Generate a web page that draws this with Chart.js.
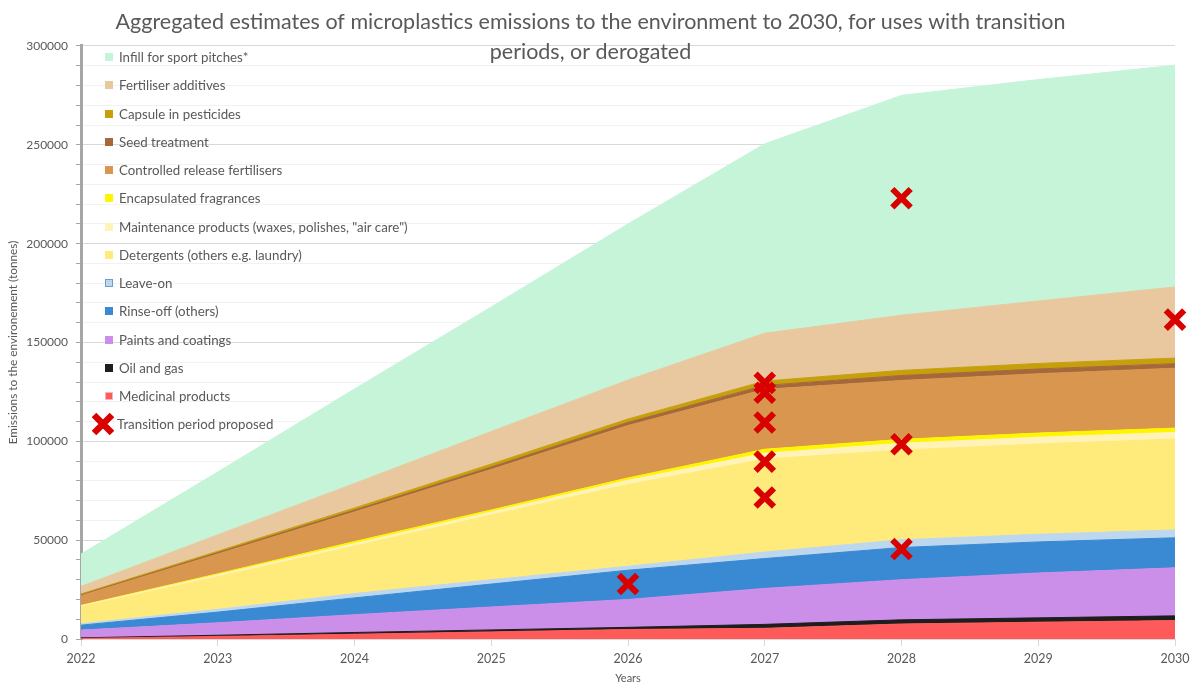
<!DOCTYPE html>
<html>
<head>
<meta charset="utf-8">
<script src="https://cdn.jsdelivr.net/npm/chart.js@4.4.1/dist/chart.umd.min.js"></script>
<style>
  body { margin: 0; background: #fff; }
  #wrap { position: relative; width: 1200px; height: 695px; }
  #legend { position: absolute; left: 105px; top: 43px; font-family: Lato, sans-serif; font-size: 13.3px; color: #595959; }
  #legend .row { height: 28.25px; display: flex; align-items: center; white-space: nowrap; }
  #legend .box { width: 8px; height: 8px; margin-right: 6px; box-sizing: border-box; }
  #legend svg { margin-left: -15px; margin-right: 1px; }
</style>
</head>
<body>
<div id="wrap">
  <canvas id="chart"></canvas>
  <div id="legend"></div>
</div>
<script>
const years = ["2022", "2023", "2024", "2025", "2026", "2027", "2028", "2029", "2030"];

// tonnes per year, bottom of the stack first
const medicinal     = [300, 1300, 2400, 3600, 4800, 5400, 7600, 8500, 9300];
const oilGas        = [300, 600, 900, 1000, 1100, 2000, 2100, 2200, 2400];
const paints        = [3900, 6300, 9000, 11600, 14100, 18200, 20300, 22700, 24300];
const rinseOff      = [2500, 5400, 8500, 11600, 14800, 15100, 16300, 15700, 15200];
const leaveOn       = [700, 1400, 2200, 2200, 2000, 3300, 3900, 3900, 4000];
const detergents    = [8600, 16500, 24000, 32700, 41400, 47000, 45400, 45700, 46000];
const maintenance   = [500, 1000, 1300, 1600, 2100, 3000, 3400, 3400, 3300];
const fragrances    = [200, 500, 1000, 1000, 1200, 2000, 2000, 2100, 2200];
const crf           = [4900, 10000, 15000, 20500, 26500, 30300, 29800, 30000, 30300];
const seed          = [400, 700, 900, 1200, 1600, 2000, 2500, 2400, 2300];
const capsule       = [500, 700, 1100, 1500, 1700, 2200, 2600, 2800, 2800];
const fertAdditives = [3800, 8300, 12400, 16500, 19700, 24200, 27900, 31600, 36000];
const infill        = [16400, 31800, 47800, 63000, 79000, 95800, 111200, 112000, 112200];

// red crosses: transition period proposed
const markerYears  = ["2026", "2027", "2027", "2027", "2027", "2027", "2028", "2028", "2028", "2030"];
const markerValues = [27800, 129600, 124600, 109500, 89700, 71600, 223000, 98500, 45500, 161600];

const layers = [
  ["Medicinal products", medicinal, "#FF5A5A"],
  ["Oil and gas", oilGas, "#1E1E1E"],
  ["Paints and coatings", paints, "#CB8EE9"],
  ["Rinse-off (others)", rinseOff, "#3989D3"],
  ["Leave-on", leaveOn, "#BDD7EE"],
  ["Detergents (others e.g. laundry)", detergents, "#FFEB7C"],
  ["Maintenance products (waxes, polishes, \"air care\")", maintenance, "#FFF3B8"],
  ["Encapsulated fragrances", fragrances, "#FFF500"],
  ["Controlled release fertilisers", crf, "#D8964E"],
  ["Seed treatment", seed, "#A5683A"],
  ["Capsule in pesticides", capsule, "#C6A00C"],
  ["Fertiliser additives", fertAdditives, "#E9C8A0"],
  ["Infill for sport pitches*", infill, "#C5F4D9"],
];

const font = "Lato, sans-serif";
const grey = "#595959";

const datasets = layers.map(([label, values, color], i) => ({
  label,
  data: values,
  backgroundColor: color,
  borderColor: color,
  borderWidth: 1,
  pointRadius: 0,
  tension: 0,
  fill: i === 0 ? "origin" : "-1",
  stack: "emissions",
}));

datasets.push({
  label: "Transition period proposed",
  data: markerYears.map((y, i) => ({ x: y, y: markerValues[i] })),
  showLine: false,
  fill: false,
  stack: "markers",
  order: -1,
  pointStyle: "crossRot",
  pointRadius: 13,
  pointHoverRadius: 13,
  pointBorderWidth: 6,
  pointBorderColor: "#D90000",
  pointBackgroundColor: "#D90000",
});

const chart = new Chart(document.getElementById("chart"), {
  type: "line",
  data: { labels: years, datasets },
  options: {
    responsive: true,
    maintainAspectRatio: false,
    animation: false,
    layout: { padding: { left: 6, right: 25, top: 0, bottom: 8 } },
    plugins: {
      legend: { display: false },
      tooltip: { enabled: false },
      title: {
        display: true,
        text: [
          "Aggregated estimates of microplastics emissions to the environment to 2030, for uses with transition",
          "periods, or derogated",
        ],
        color: grey,
        font: { family: font, size: 21.5, weight: "normal", lineHeight: 1.395 },
        padding: { top: 7, bottom: -21 },
      },
    },
    scales: {
      x: {
        offset: false,
        grid: { drawOnChartArea: false, tickLength: 7, tickColor: "#D9D9D9" },
        border: { color: "#D9D9D9" },
        ticks: { color: grey, font: { family: font, size: 12.5 }, padding: 5, maxRotation: 0 },
        title: { display: true, text: "Years", color: grey, font: { family: font, size: 11 }, padding: { top: 2, bottom: 2 } },
        afterFit: (s) => { s.height = 48; },
      },
      y: {
        stacked: true,
        min: 0,
        max: 300000,
        ticks: {
          stepSize: 10000,
          autoSkip: false,
          color: grey,
          font: { family: font, size: 12 },
          padding: 8,
          callback: (v) => (v % 50000 === 0 ? String(v) : ""),
        },
        grid: {
          color: (ctx) => (ctx.tick && ctx.tick.value % 50000 === 0 ? "#D9D9D9" : "#F2F2F2"),
          tickColor: "#A6A6A6",
          tickLength: 5,
        },
        border: { color: "#A6A6A6", width: 3 },
        title: {
          display: true,
          text: "Emissions to the environement (tonnes)",
          color: grey,
          font: { family: font, size: 11.8 },
          padding: { top: 0, bottom: 0 },
        },
        afterFit: (s) => { s.width = 75; },
      },
    },
  },
});

// legend drawn over the plot, top to bottom like the original
const legend = document.getElementById("legend");
const order = chart.data.datasets.slice(0, layers.length).reverse();
order.forEach((ds) => {
  const row = document.createElement("div");
  row.className = "row";
  const box = document.createElement("span");
  box.className = "box";
  box.style.background = ds.backgroundColor;
  if (ds.label === "Leave-on") box.style.border = "1px solid #6F9CCB";
  if (ds.label === "Medicinal products") box.style.border = "1px solid #F4B8B8";
  row.appendChild(box);
  row.appendChild(document.createTextNode(ds.label));
  legend.appendChild(row);
});
const tp = chart.data.datasets[layers.length];
const tpRow = document.createElement("div");
tpRow.className = "row";
tpRow.innerHTML =
  '<svg width="26" height="26" viewBox="0 0 26 26"><path d="M4 4 L22 22 M22 4 L4 22" stroke="' +
  tp.pointBorderColor + '" stroke-width="6.5"/></svg>';
tpRow.appendChild(document.createTextNode(tp.label));
legend.appendChild(tpRow);
</script>
</body>
</html>
